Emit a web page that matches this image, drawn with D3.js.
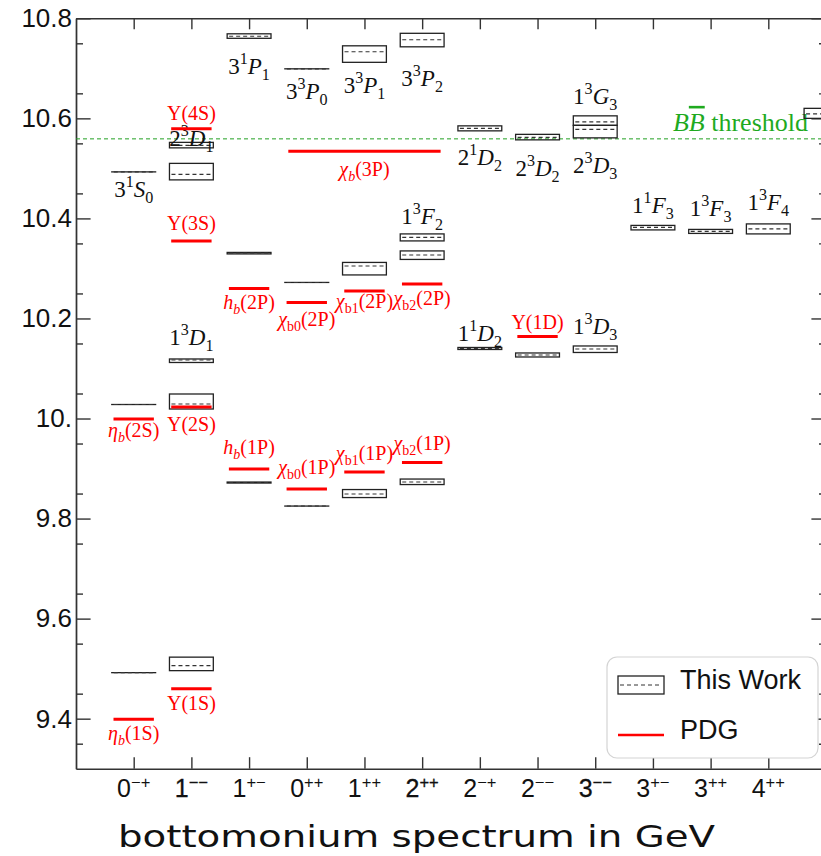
<!DOCTYPE html>
<html>
<head>
<meta charset="utf-8">
<script src="https://cdn.jsdelivr.net/npm/d3@7"></script>
<style>
  body { margin: 0; background: #fff; }
  svg { display: block; }
</style>
</head>
<body>
<div id="chart"></div>
<script>
// J^PC channels along the x axis (^ = superscript group)
const channels = ["0^{−+}", "1^{−−}", "1^{+−}", "0^{++}", "1^{++}", "2^{++}",
                  "2^{−+}", "2^{−−}", "3^{−−}", "3^{+−}", "3^{++}", "4^{++}"]
const boldish = [1, 5, 8]

const yTicks = [9.4, 9.6, 9.8, 10.0, 10.2, 10.4, 10.6, 10.8]

// this work: [channel, mass, low, high]
const thisWork = [
    [0, 10.493, 10.493, 10.493], [0, 10.028, 10.028, 10.028], [0, 9.492, 9.492, 9.492],
    [1, 10.546, 10.541, 10.552], [1, 10.488, 10.477, 10.510], [1, 10.117, 10.112, 10.119],
    [1, 10.029, 10.019, 10.049], [1, 9.506, 9.496, 9.523],
    [2, 10.764, 10.760, 10.769], [2, 10.331, 10.329, 10.332], [2, 9.872, 9.871, 9.873],
    [3, 10.699, 10.699, 10.699], [3, 10.272, 10.272, 10.272], [3, 9.825, 9.825, 9.825],
    [4, 10.733, 10.712, 10.745], [4, 10.305, 10.287, 10.312], [4, 9.849, 9.842, 9.858],
    [5, 10.757, 10.743, 10.770], [5, 10.362, 10.355, 10.369], [5, 10.327, 10.318, 10.335],
    [5, 9.873, 9.868, 9.879],
    [6, 10.580, 10.575, 10.585], [6, 10.140, 10.138, 10.142],
    [7, 10.562, 10.557, 10.568], [7, 10.127, 10.123, 10.131],
    [8, 10.593, 10.586, 10.605], [8, 10.578, 10.561, 10.586], [8, 10.139, 10.132, 10.145],
    [9, 10.382, 10.377, 10.386],
    [10, 10.374, 10.370, 10.378],
    [11, 10.379, 10.369, 10.389],
    [12, 10.609, 10.600, 10.620]
]

// names of the lattice states: [channel, label mass (GeV), text]
const stateNames = [
    [0, 10.443, "3^1*S*_0"], [1, 10.545, "2^3*D*_1"], [1, 10.147, "1^3*D*_1"],
    [2, 10.689, "3^1*P*_1"], [3, 10.639, "3^3*P*_0"], [4, 10.651, "3^3*P*_1"],
    [5, 10.665, "3^3*P*_2"], [5, 10.389, "1^3*F*_2"], [6, 10.507, "2^1*D*_2"],
    [6, 10.155, "1^1*D*_2"], [7, 10.485, "2^3*D*_2"], [8, 10.629, "1^3*G*_3"],
    [8, 10.491, "2^3*D*_3"], [8, 10.169, "1^3*D*_3"], [9, 10.411, "1^1*F*_3"],
    [10, 10.405, "1^3*F*_3"], [11, 10.417, "1^3*F*_4"]
]

// PDG: [channel, mass, label mass, text]
const pdg = [
    [0, 9.399, 9.357, "*η*_*b*(1S)"], [0, 9.999, 9.963, "*η*_*b*(2S)"],
    [1, 9.460, 9.417, "Υ(1S)"], [1, 10.023, 9.975, "Υ(2S)"],
    [1, 10.355, 10.377, "Υ(3S)"], [1, 10.579, 10.597, "Υ(4S)"],
    [2, 9.899, 9.929, "*h*_*b*(1P)"], [2, 10.260, 10.219, "*h*_*b*(2P)"],
    [3, 9.859, 9.889, "*χ*_{b0}(1P)"], [3, 10.232, 10.185, "*χ*_{b0}(2P)"],
    [4, 9.893, 9.917, "*χ*_{b1}(1P)"], [4, 10.255, 10.221, "*χ*_{b1}(2P)"],
    [5, 9.912, 9.937, "*χ*_{b2}(1P)"], [5, 10.269, 10.227, "*χ*_{b2}(2P)"],
    [7, 10.164, 10.179, "Υ(1D)"]
]
// chi_b(3P) is drawn across the three P-wave channels
const chib3P = [3, 5, 10.534, 10.485, "*χ*_*b*(3P)"]

const bbThreshold = 10.559

const width = 821, height = 856
const plotLeft = 76, plotRight = 826, plotTop = 18.3, plotBottom = 768.7

const x = d3.scaleLinear().domain([-1, 12]).range([plotLeft, plotRight])
const y = d3.scaleLinear().domain([9.3, 10.8]).range([plotBottom, plotTop])

const svg = d3.select("#chart").append("svg")
    .attr("width", width)
    .attr("height", height)

// turn "3^1*S*_0" into runs of text with italic / super / sub flags
function parseLabel(s) {
    const runs = []
    let ital = false
    const push = (ch, it, pos) => {
        const last = runs[runs.length - 1]
        if (last && last.it === it && last.pos === pos) last.t += ch
        else runs.push({t: ch, it: it, pos: pos})
    }
    let i = 0
    while (i < s.length) {
        const c = s[i]
        if (c === "*") { ital = !ital; i++; continue }
        if (c === "^" || c === "_") {
            const pos = c === "^" ? 1 : -1
            i++
            let grp
            if (s[i] === "{") {
                const j = s.indexOf("}", i)
                grp = s.slice(i + 1, j)
                i = j + 1
            } else if (s[i] === "*") {
                const j = s.indexOf("*", i + 1)
                grp = s.slice(i, j + 1)
                i = j + 1
            } else {
                grp = s[i]
                i++
            }
            let gi = ital
            for (const ch of grp) {
                if (ch === "*") { gi = !gi; continue }
                push(ch, gi, pos)
            }
            continue
        }
        push(c, ital, 0)
        i++
    }
    return runs
}

function richText(g, str, px, py, fs, opts) {
    const t = g.append("text")
        .attr("x", px)
        .attr("y", py)
        .attr("text-anchor", opts.anchor || "middle")
        .attr("font-family", opts.family)
        .attr("font-size", fs)
        .attr("fill", opts.color || "#000")
    let shift = 0
    parseLabel(str).forEach(r => {
        const target = r.pos === 1 ? -fs * (opts.supUp || 0.42) : r.pos === -1 ? fs * 0.25 : 0
        t.append("tspan")
            .attr("dy", target - shift)
            .attr("font-size", r.pos === 0 ? fs : fs * (opts.scriptScale || 0.7))
            .attr("font-style", r.it ? "italic" : "normal")
            .text(r.t)
        shift = target
    })
    return t
}

// ---------- axes ----------
const minorY = d3.range(9.35, 10.8, 0.1).map(v => +v.toFixed(2))
const tickColor = "#333"

function styleAxis(g) {
    g.selectAll("path, line").attr("stroke", tickColor).attr("stroke-width", 1.4)
}

svg.append("g")
    .attr("transform", `translate(${plotLeft},0)`)
    .call(d3.axisLeft(y).tickValues(minorY).tickSize(-7).tickSizeOuter(0).tickFormat(""))
    .call(styleAxis)
svg.append("g")
    .attr("transform", `translate(${plotLeft},0)`)
    .call(d3.axisLeft(y).tickValues(yTicks).tickSize(-14.6).tickSizeOuter(0).tickPadding(4)
        .tickFormat(d => d === 10 ? "10." : d3.format(".1f")(d)))
    .call(styleAxis)
    .call(g => g.selectAll("text")
        .attr("font-family", "Liberation Sans, Arial, sans-serif")
        .attr("font-size", 26)
        .attr("fill", "#111"))

svg.append("g")
    .attr("transform", `translate(${plotRight},0)`)
    .call(d3.axisRight(y).tickValues(minorY).tickSize(-7).tickSizeOuter(0).tickFormat(""))
    .call(styleAxis)
svg.append("g")
    .attr("transform", `translate(${plotRight},0)`)
    .call(d3.axisRight(y).tickValues(yTicks).tickSize(-14.6).tickSizeOuter(0).tickFormat(""))
    .call(styleAxis)

const colIdx = d3.range(channels.length)
svg.append("g")
    .attr("transform", `translate(0,${plotTop})`)
    .call(d3.axisTop(x).tickValues(colIdx).tickSize(-11).tickSizeOuter(0).tickFormat(""))
    .call(styleAxis)
svg.append("g")
    .attr("transform", `translate(0,${plotBottom})`)
    .call(d3.axisBottom(x).tickValues(colIdx).tickSize(-11.5).tickSizeOuter(0).tickFormat(""))
    .call(styleAxis)

colIdx.forEach(i => {
    const t = richText(svg, channels[i], x(i), 797, 25, {
        family: "Liberation Sans, Arial, sans-serif", color: "#111", supUp: 0.38, scriptScale: 0.66
    })
    if (boldish.includes(i)) t.attr("stroke", "#111").attr("stroke-width", 0.3)
})

svg.append("text")
    .attr("x", 118)
    .attr("y", 847)
    .attr("font-family", "DejaVu Sans, sans-serif")
    .attr("font-size", 30)
    .attr("textLength", 597)
    .attr("lengthAdjust", "spacingAndGlyphs")
    .attr("fill", "#111")
    .text("bottomonium spectrum in GeV")

// ---------- threshold ----------
svg.append("line")
    .attr("x1", plotLeft).attr("x2", plotRight)
    .attr("y1", y(bbThreshold)).attr("y2", y(bbThreshold))
    .attr("stroke", "#22a022")
    .attr("stroke-width", 1)
    .attr("stroke-dasharray", "4,3")

const thr = svg.append("text")
    .attr("x", 808)
    .attr("y", y(bbThreshold) - 8)
    .attr("text-anchor", "end")
    .attr("font-family", "Liberation Serif, Times New Roman, serif")
    .attr("font-size", 26)
    .attr("fill", "#1faa1f")
thr.append("tspan").attr("font-style", "italic").text("B")
thr.append("tspan").attr("font-style", "italic").attr("text-decoration", "overline").text("B")
thr.append("tspan").text(" threshold")

// ---------- lattice boxes ----------
const boxHalf = 0.38
const boxes = svg.append("g")
boxes.selectAll("rect")
    .data(thisWork)
    .enter()
    .append("rect")
    .attr("x", d => x(d[0] - boxHalf))
    .attr("y", d => y(d[3]))
    .attr("width", d => x(d[0] + boxHalf) - x(d[0] - boxHalf))
    .attr("height", d => Math.max(y(d[2]) - y(d[3]), 0.01))
    .attr("fill", "none")
    .attr("stroke", "#222")
    .attr("stroke-width", 1.3)
boxes.selectAll("line")
    .data(thisWork)
    .enter()
    .append("line")
    .attr("x1", d => x(d[0] - boxHalf) + 2)
    .attr("x2", d => x(d[0] + boxHalf) - 2)
    .attr("y1", d => y(d[1]))
    .attr("y2", d => y(d[1]))
    .attr("stroke", "#333")
    .attr("stroke-width", 1.1)
    .attr("stroke-dasharray", "4,3")

stateNames.forEach(d => {
    richText(svg, d[2], x(d[0]), y(d[1]), 23, {
        family: "Liberation Serif, Times New Roman, serif", color: "#111"
    })
})

// ---------- PDG ----------
const redHalf = 0.35
svg.append("g").selectAll("line")
    .data(pdg)
    .enter()
    .append("line")
    .attr("x1", d => x(d[0] - redHalf))
    .attr("x2", d => x(d[0] + redHalf))
    .attr("y1", d => y(d[1]))
    .attr("y2", d => y(d[1]))
    .attr("stroke", "red")
    .attr("stroke-width", 3)

svg.append("line")
    .attr("x1", x(chib3P[0] - 0.32))
    .attr("x2", x(chib3P[1] + 0.32))
    .attr("y1", y(chib3P[2]))
    .attr("y2", y(chib3P[2]))
    .attr("stroke", "red")
    .attr("stroke-width", 3)

pdg.forEach(d => {
    richText(svg, d[3], x(d[0]), y(d[2]), 20, {
        family: "Liberation Serif, Times New Roman, serif", color: "red"
    })
})
richText(svg, chib3P[4], x((chib3P[0] + chib3P[1]) / 2), y(chib3P[3]), 20, {
    family: "Liberation Serif, Times New Roman, serif", color: "red"
})

// ---------- legend ----------
const legend = svg.append("g")
legend.append("rect")
    .attr("x", 607).attr("y", 657)
    .attr("width", 211).attr("height", 101)
    .attr("rx", 10)
    .attr("fill", "#fff")
    .attr("stroke", "#d4d4d4")
    .attr("stroke-width", 1.2)
legend.append("rect")
    .attr("x", 618).attr("y", 676)
    .attr("width", 46).attr("height", 18)
    .attr("fill", "none")
    .attr("stroke", "#222")
    .attr("stroke-width", 1.3)
legend.append("line")
    .attr("x1", 620).attr("x2", 662)
    .attr("y1", 685).attr("y2", 685)
    .attr("stroke", "#333")
    .attr("stroke-dasharray", "4,3")
legend.append("line")
    .attr("x1", 618).attr("x2", 664)
    .attr("y1", 735).attr("y2", 735)
    .attr("stroke", "red")
    .attr("stroke-width", 2.5)
legend.selectAll("text.lg")
    .data(["This Work", "PDG"])
    .enter()
    .append("text")
    .attr("class", "lg")
    .attr("x", 680)
    .attr("y", (d, i) => 689 + i * 50)
    .attr("font-family", "Liberation Sans, Arial, sans-serif")
    .attr("font-size", 27)
    .attr("fill", "#111")
    .text(d => d)
</script>
</body>
</html>
